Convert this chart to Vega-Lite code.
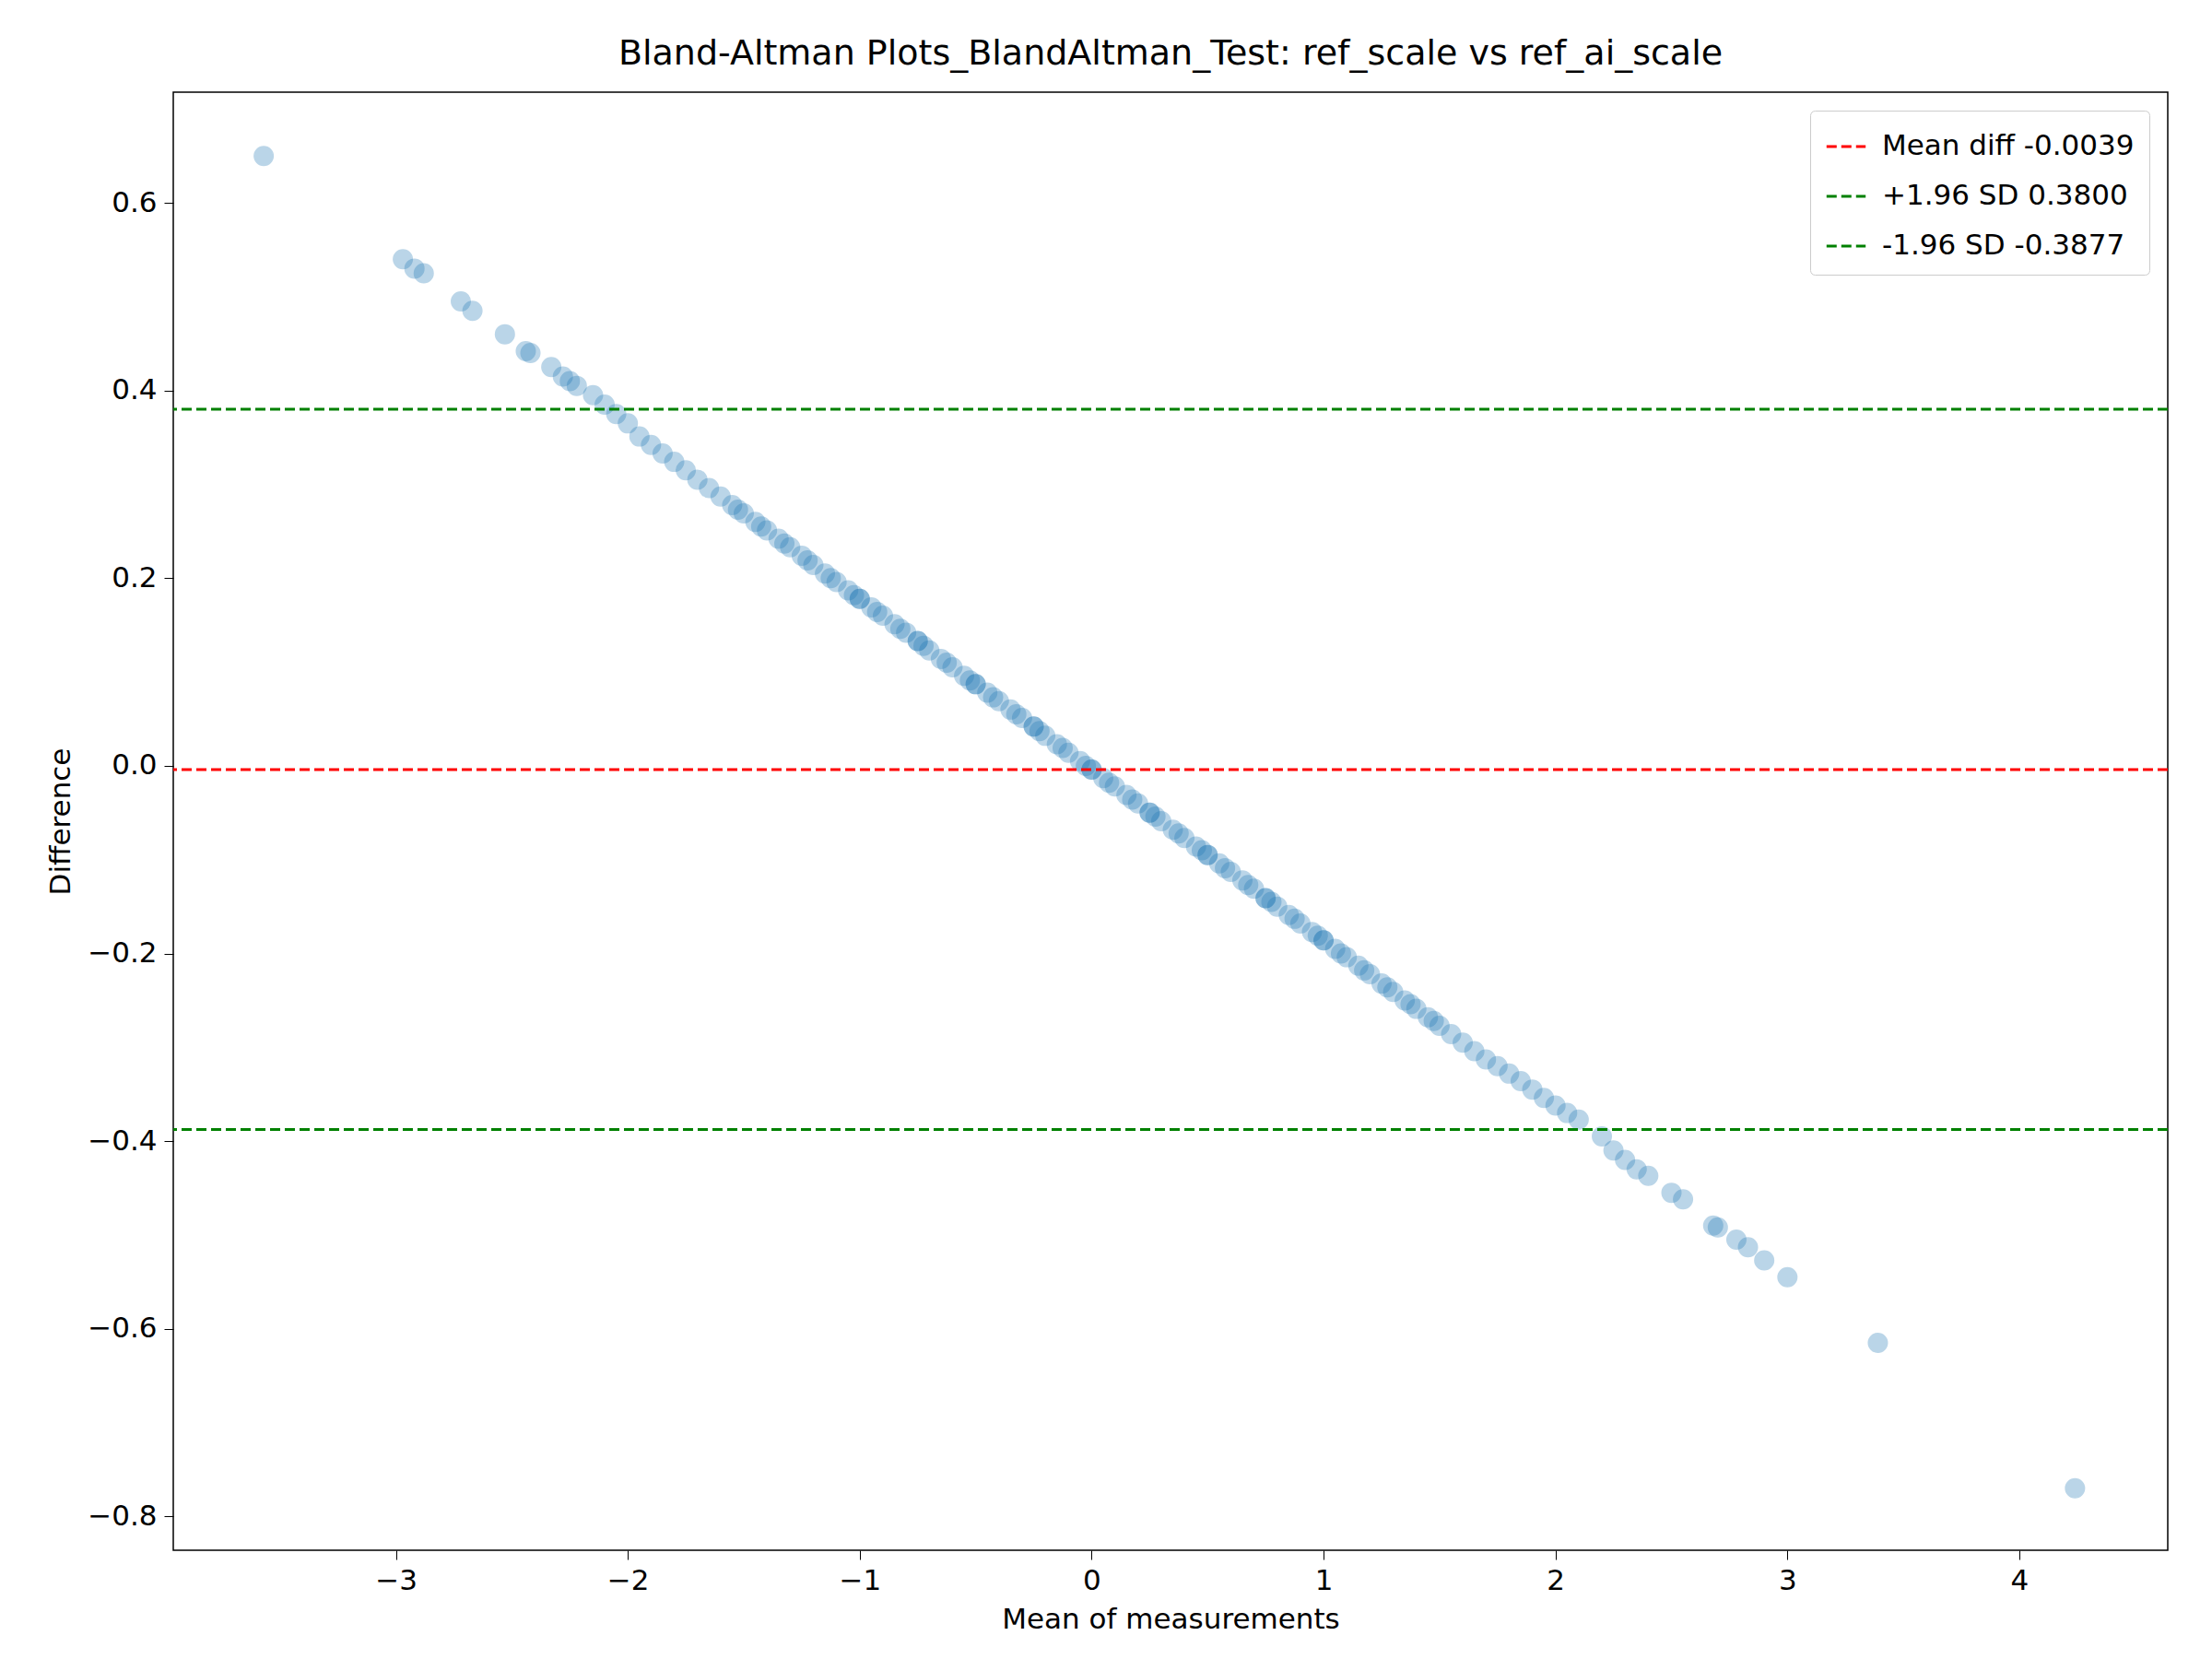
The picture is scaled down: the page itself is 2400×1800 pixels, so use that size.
{
"$schema":"https://vega.github.io/schema/vega-lite/v6.json",
"autosize":{"type":"fit","contains":"padding"},
"width":2400,"height":1800,
"padding":{"left":50,"top":40,"right":46,"bottom":28},
"background":"white",
"config":{"font":"DejaVu Sans","view":{"stroke":"black","strokeWidth":1.5},
"axis":{"grid":false,"domain":false,"tickColor":"black","labelColor":"black","titleColor":"black","labelFontSize":31,"titleFontSize":31,"titleFontWeight":"normal","tickSize":10,"labelPadding":8,"titlePadding":12}},
"title":{"text":"Bland-Altman Plots_BlandAltman_Test: ref_scale vs ref_ai_scale","fontSize":38,"fontWeight":"normal","color":"black","offset":22},
"layer":[
{"data":{"values":[
{"m":-3.57,"d":0.65},{"m":-2.97,"d":0.54},{"m":-2.92,"d":0.53},{"m":-2.88,"d":0.525},{"m":-2.72,"d":0.495},{"m":-2.67,"d":0.485},{"m":-2.53,"d":0.46},{"m":-2.44,"d":0.442},{"m":-2.42,"d":0.44},{"m":-2.33,"d":0.425},{"m":-2.28,"d":0.415},{"m":-2.25,"d":0.41},{"m":-2.22,"d":0.405},{"m":-2.15,"d":0.395},{"m":-2.1,"d":0.385},{"m":-2.05,"d":0.375},{"m":-2.0,"d":0.365},
{"m":-1.95,"d":0.351},{"m":-1.9,"d":0.342},{"m":-1.85,"d":0.333},{"m":-1.8,"d":0.324},{"m":-1.75,"d":0.315},{"m":-1.7,"d":0.305},{"m":-1.65,"d":0.296},{"m":-1.6,"d":0.287},{"m":-1.55,"d":0.278},{"m":-1.5,"d":0.269},{"m":-1.45,"d":0.26},{"m":-1.4,"d":0.251},{"m":-1.35,"d":0.242},{"m":-1.3,"d":0.233},{"m":-1.25,"d":0.224},{"m":-1.2,"d":0.214},{"m":-1.15,"d":0.205},{"m":-1.1,"d":0.196},{"m":-1.05,"d":0.187},{"m":-1.0,"d":0.178},{"m":-0.95,"d":0.169},{"m":-0.9,"d":0.16},{"m":-0.85,"d":0.151},{"m":-0.8,"d":0.142},{"m":-0.75,"d":0.133},{"m":-0.7,"d":0.123},{"m":-0.65,"d":0.114},{"m":-0.6,"d":0.105},{"m":-0.55,"d":0.096},{"m":-0.5,"d":0.087},{"m":-0.45,"d":0.078},{"m":-0.4,"d":0.069},{"m":-0.35,"d":0.06},{"m":-0.3,"d":0.051},{"m":-0.25,"d":0.042},{"m":-0.2,"d":0.032},{"m":-0.15,"d":0.023},{"m":-0.1,"d":0.014},{"m":-0.05,"d":0.005},{"m":0.0,"d":-0.004},{"m":0.05,"d":-0.013},{"m":0.1,"d":-0.022},{"m":0.15,"d":-0.031},{"m":0.2,"d":-0.04},{"m":0.25,"d":-0.05},{"m":0.3,"d":-0.059},{"m":0.35,"d":-0.068},{"m":0.4,"d":-0.077},{"m":0.45,"d":-0.086},{"m":0.5,"d":-0.095},{"m":0.55,"d":-0.104},{"m":0.6,"d":-0.113},{"m":0.65,"d":-0.122},{"m":0.7,"d":-0.131},{"m":0.75,"d":-0.141},{"m":0.8,"d":-0.15},{"m":0.85,"d":-0.159},{"m":0.9,"d":-0.168},{"m":0.95,"d":-0.177},{"m":1.0,"d":-0.186},{"m":1.05,"d":-0.195},{"m":1.1,"d":-0.204},{"m":1.15,"d":-0.213},{"m":1.2,"d":-0.222},{"m":1.25,"d":-0.232},{"m":1.3,"d":-0.241},{"m":1.35,"d":-0.25},{"m":1.4,"d":-0.259},{"m":1.45,"d":-0.268},{"m":1.5,"d":-0.277},{"m":1.55,"d":-0.286},{"m":1.6,"d":-0.295},{"m":1.65,"d":-0.304},{"m":1.7,"d":-0.313},{"m":1.75,"d":-0.32},{"m":1.8,"d":-0.328},{"m":1.85,"d":-0.336},{"m":1.9,"d":-0.345},{"m":1.95,"d":-0.354},{"m":2.0,"d":-0.362},{"m":2.05,"d":-0.37},{"m":2.1,"d":-0.377},
{"m":-1.525,"d":0.273},{"m":-1.425,"d":0.255},{"m":-1.325,"d":0.237},{"m":-1.225,"d":0.219},{"m":-1.125,"d":0.2},{"m":-1.025,"d":0.182},{"m":-0.925,"d":0.164},{"m":-0.825,"d":0.146},{"m":-0.725,"d":0.128},{"m":-0.625,"d":0.11},{"m":-0.525,"d":0.091},{"m":-0.425,"d":0.073},{"m":-0.325,"d":0.055},{"m":-0.225,"d":0.037},{"m":-0.125,"d":0.019},{"m":-0.025,"d":0.0},{"m":0.075,"d":-0.018},{"m":0.175,"d":-0.036},{"m":0.275,"d":-0.054},{"m":0.375,"d":-0.072},{"m":0.475,"d":-0.09},{"m":0.575,"d":-0.109},{"m":0.675,"d":-0.127},{"m":0.775,"d":-0.145},{"m":0.875,"d":-0.163},{"m":0.975,"d":-0.181},{"m":1.075,"d":-0.2},{"m":1.175,"d":-0.218},{"m":1.275,"d":-0.236},{"m":1.375,"d":-0.254},{"m":1.475,"d":-0.272},
{"m":-1.0,"d":0.178},{"m":-0.5,"d":0.087},{"m":0.0,"d":-0.004},{"m":0.5,"d":-0.095},{"m":1.0,"d":-0.186},{"m":-0.75,"d":0.133},{"m":-0.25,"d":0.042},{"m":0.25,"d":-0.05},{"m":0.75,"d":-0.141},
{"m":2.2,"d":-0.395},{"m":2.25,"d":-0.41},{"m":2.3,"d":-0.42},{"m":2.35,"d":-0.43},{"m":2.4,"d":-0.437},{"m":2.5,"d":-0.455},{"m":2.55,"d":-0.462},{"m":2.68,"d":-0.49},{"m":2.7,"d":-0.492},{"m":2.78,"d":-0.505},{"m":2.83,"d":-0.513},{"m":2.9,"d":-0.527},{"m":3.0,"d":-0.545},{"m":3.39,"d":-0.615},{"m":4.24,"d":-0.77}]},
"mark":{"type":"point","shape":"circle","filled":true,"size":420,"opacity":0.3,"color":"#1f77b4","stroke":"#1f77b4","strokeWidth":1.5},
"encoding":{
"x":{"field":"m","type":"quantitative","title":"Mean of measurements","scale":{"domain":[-3.96,4.64],"nice":false,"zero":false},"axis":{"values":[-3,-2,-1,0,1,2,3,4]}},
"y":{"field":"d","type":"quantitative","title":"Difference","scale":{"domain":[-0.836,0.718],"nice":false,"zero":false},"axis":{"values":[-0.8,-0.6,-0.4,-0.2,0,0.2,0.4,0.6],"format":".1f"}}}},
{"data":{"values":[{"label":"Mean diff -0.0039","y":-0.0039},{"label":"+1.96 SD 0.3800","y":0.38},{"label":"-1.96 SD -0.3877","y":-0.3877}]},
"mark":{"type":"rule","strokeWidth":3,"strokeDash":[11,5]},
"encoding":{"y":{"field":"y","type":"quantitative"},
"color":{"field":"label","type":"nominal","scale":{"domain":["Mean diff -0.0039","+1.96 SD 0.3800","-1.96 SD -0.3877"],"range":["red","green","green"]},
"legend":{"title":null,"orient":"top-right","symbolType":"stroke","symbolStrokeWidth":3,"symbolDash":[11,5],"symbolSize":1800,"labelFontSize":31,"labelColor":"black","rowPadding":16,"padding":16,"strokeColor":"#cccccc","fillColor":"white","cornerRadius":5,"offset":20,"labelLimit":500,"labelOffset":16}}}}
]}
